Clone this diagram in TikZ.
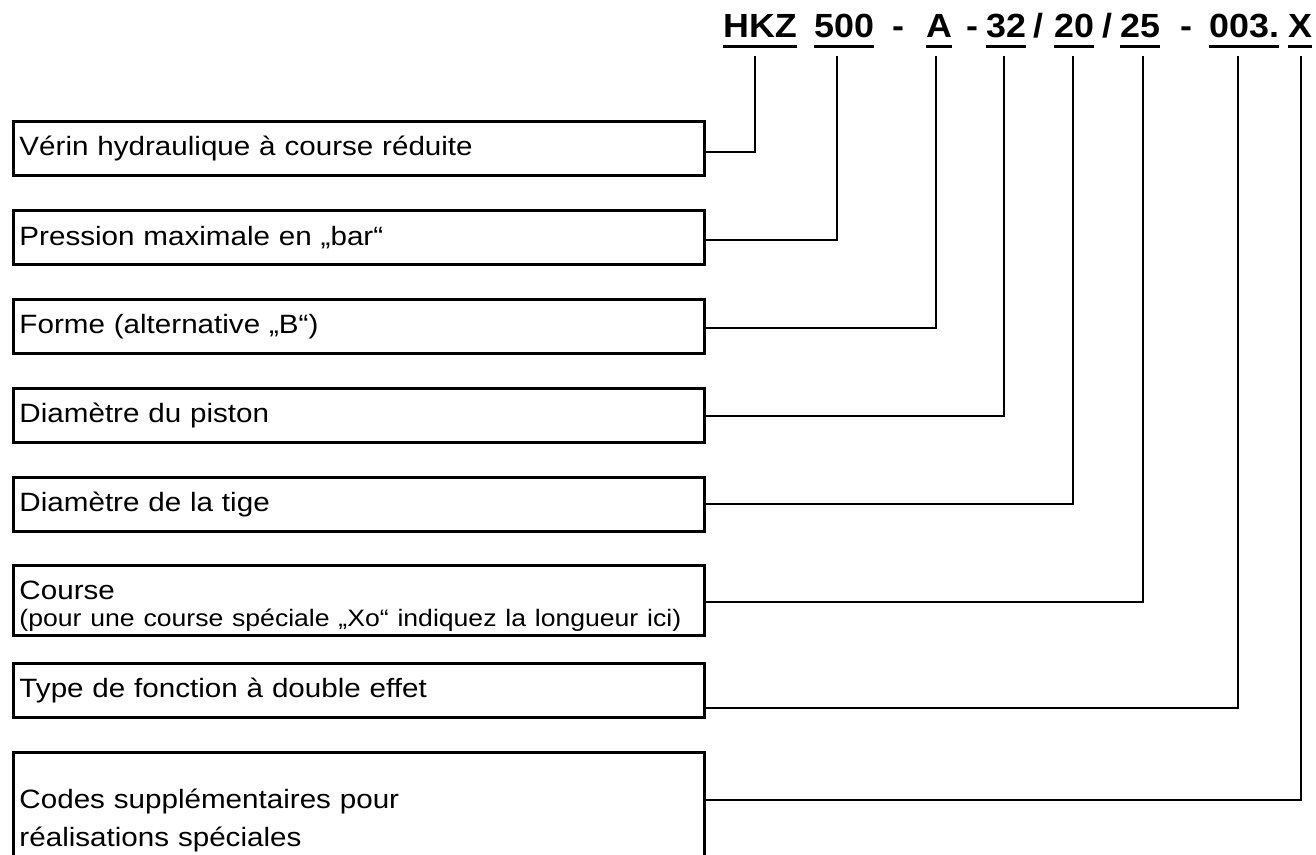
\documentclass[tikz,border=0pt]{standalone}
\usepackage{fontspec}
\setmainfont{Liberation Sans}
\newfontfamily\boxfont[FakeStretch=1.117]{Liberation Sans}
\newfontfamily\hdrfont[FakeStretch=1.07]{Liberation Sans}
\begin{document}
\begin{tikzpicture}[x=1pt,y=-1pt,
  lbox/.style={draw, line width=3pt, inner xsep=6pt, inner ysep=0pt, text width=679pt,
     minimum height=54pt, align=left, anchor=north west,
     font=\boxfont\fontsize{26.5}{30}\selectfont},
  tok/.style={anchor=base west, inner sep=0pt, font=\hdrfont\bfseries\fontsize{33.5}{36}\selectfont},
  uline/.style={line width=3pt},
  conn/.style={line width=2pt}]
\useasboundingbox (0,0) rectangle (1316,854);
% header tokens
\node[tok] (hkz) at (723,37) {HKZ};
\node[tok] (p500) at (814,37) {500};
\node[tok] (d1) at (892,37) {-};
\node[tok] (a) at (926,37) {A};
\node[tok] (d2) at (966,37) {-};
\node[tok] (n32) at (986,37) {32};
\node[tok] (s1) at (1033,37) {/};
\node[tok] (n20) at (1054,37) {20};
\node[tok] (s2) at (1102,37) {/};
\node[tok] (n25) at (1120,37) {25};
\node[tok] (d3) at (1180,37) {-};
\node[tok] (n003) at (1209,37) {003.};
\node[tok] (x) at (1288,37) {X};
\foreach \t in {hkz,p500,a,n32,n20,n25,n003,x}
  \draw[uline] ([yshift=-9pt]\t.base west) -- ([yshift=-9pt]\t.base east);
% boxes
\node[lbox] (b1) at (12,120) {Vérin hydraulique à course réduite};
\node[lbox] (b2) at (12,209) {Pression maximale en „bar“};
\node[lbox] (b3) at (12,298) {Forme (alternative „B“)};
\node[lbox] (b4) at (12,387) {Diamètre du piston};
\node[lbox] (b5) at (12,476) {Diamètre de la tige};
\node[lbox, minimum height=0pt] (b6) at (12,564)
  {\rule{0pt}{34pt}Course\\[-3pt]{\fontsize{23.8}{26}\selectfont(pour une course spéciale „Xo“ indiquez la longueur ici)\rule[-9pt]{0pt}{9pt}}};
\node[lbox] (b7) at (12,662) {Type de fonction à double effet};
\node[lbox, minimum height=0pt] (b8) at (12,751)
  {\rule{0pt}{56pt}Codes supplémentaires pour\\[8pt]réalisations spéciales\rule[-40pt]{0pt}{40pt}};
% tick tops
\coordinate (k1) at (755,56);
\coordinate (k2) at (837,56);
\coordinate (k3) at (936,56);
\coordinate (k4) at (1004,56);
\coordinate (k5) at (1073,56);
\coordinate (k6) at (1143,56);
\coordinate (k7) at (1238,56);
\coordinate (k8) at (1301,56);
\draw[conn] (k1) |- (b1.east |- 0,152);
\draw[conn] (k2) |- (b2.east |- 0,240);
\draw[conn] (k3) |- (b3.east |- 0,328);
\draw[conn] (k4) |- (b4.east |- 0,416);
\draw[conn] (k5) |- (b5.east |- 0,504);
\draw[conn] (k6) |- (b6.east |- 0,602);
\draw[conn] (k7) |- (b7.east |- 0,708);
\draw[conn] (k8) |- (b8.north east |- 0,800);
\end{tikzpicture}
\end{document}
